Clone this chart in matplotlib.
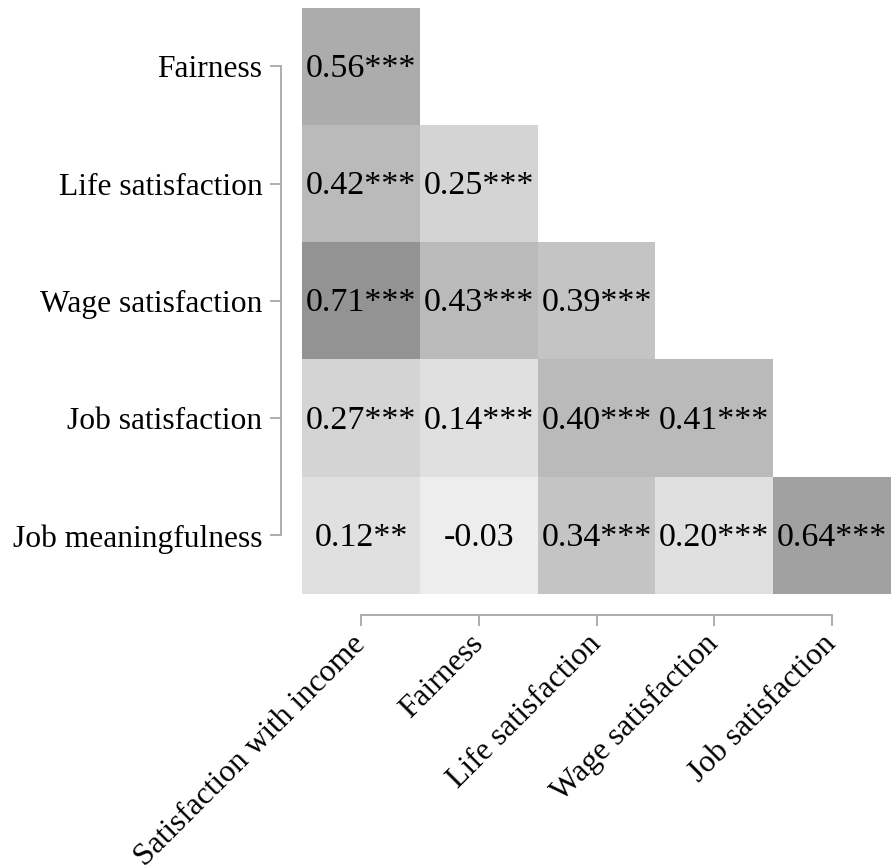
import numpy as np
import matplotlib
matplotlib.use("Agg")
import matplotlib.pyplot as plt
from matplotlib.colors import ListedColormap, BoundaryNorm

plt.rcParams['font.family'] = ['Liberation Serif', 'DejaVu Serif']

# data
row_labels = ['Fairness', 'Life satisfaction', 'Wage satisfaction',
              'Job satisfaction', 'Job meaningfulness']
col_labels = ['Satisfaction with income', 'Fairness', 'Life satisfaction',
              'Wage satisfaction', 'Job satisfaction']

r_fair = [0.56]
r_life = [0.42, 0.25]
r_wage = [0.71, 0.43, 0.39]
r_jobsat = [0.27, 0.14, 0.40, 0.41]
r_jobmean = [0.12, -0.03, 0.34, 0.20, 0.64]

s_fair = ['***']
s_life = ['***', '***']
s_wage = ['***', '***', '***']
s_jobsat = ['***', '***', '***', '***']
s_jobmean = ['**', '', '***', '***', '***']

rows = [r_fair, r_life, r_wage, r_jobsat, r_jobmean]
stars = [s_fair, s_life, s_wage, s_jobsat, s_jobmean]

n = len(row_labels)
mat = np.full((n, n), np.nan)
for i, r in enumerate(rows):
    mat[i, :len(r)] = r
mat = np.ma.masked_invalid(mat)

# binned grey scale
greys = ['#ededed', '#e0e0e0', '#d4d4d4', '#c4c4c4', '#bababa',
         '#acacac', '#a1a1a1', '#939393']
bounds = [-0.1, 0.1, 0.205, 0.3, 0.4, 0.5, 0.6, 0.7, 0.8]
cmap = ListedColormap(greys)
cmap.set_bad('white')
norm = BoundaryNorm(bounds, cmap.N)

fig = plt.figure(figsize=(8.91, 8.67), dpi=100)
ax = fig.add_axes([0.339, 0.315, 0.661, 0.676])

ax.pcolormesh(np.arange(n + 1) - 0.5, np.arange(n + 1) - 0.5, mat,
              cmap=cmap, norm=norm, edgecolor='none')

for i, r in enumerate(rows):
    for j, v in enumerate(r):
        ax.text(j, i + 0.02, f"{v:.2f}{stars[i][j]}", ha='center', va='center',
                fontsize=24.5, color='black')

ax.set_xlim(-0.5, n - 0.5)
ax.set_ylim(n - 0.5, -0.5)

ax.spines['top'].set_visible(False)
ax.spines['right'].set_visible(False)
for side in ['left', 'bottom']:
    ax.spines[side].set_position(('outward', 15))
    ax.spines[side].set_color('#a8a8a8')
    ax.spines[side].set_linewidth(1.3)
ax.spines['left'].set_bounds(0, n - 1)
ax.spines['bottom'].set_bounds(0, n - 1)
ax.tick_params(axis='both', length=8, width=1.3, color='#a8a8a8',
               labelcolor='black', labelsize=22.7)
ax.tick_params(axis='y', pad=5.5)
ax.tick_params(axis='x', pad=10)

ax.set_xticks(range(n))
ax.set_yticks(range(n))
ax.set_xticklabels(col_labels)
ax.set_yticklabels(row_labels)
plt.setp(ax.get_xticklabels(), rotation=45, ha='right', va='center',
         rotation_mode='anchor')

fig.savefig('out.png', dpi=100)
